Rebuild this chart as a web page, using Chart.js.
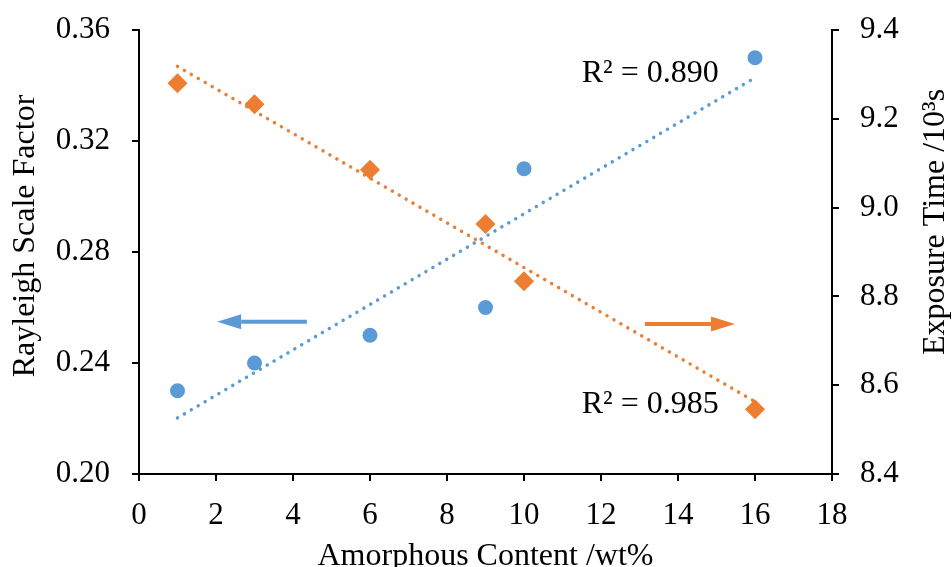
<!DOCTYPE html>
<html>
<head>
<meta charset="utf-8">
<script src="https://cdn.jsdelivr.net/npm/chart.js@4.4.0/dist/chart.umd.min.js"></script>
<style>
  html, body { margin: 0; padding: 0; background: #fff; }
  #wrap { width: 952px; height: 567px; }
</style>
</head>
<body>
<div id="wrap"><canvas id="chartCanvas" width="952" height="567"></canvas></div>
<script>
// Messwerte
const contentX = [1, 3, 6, 9, 10, 16];
const rayleighY = [0.23, 0.24, 0.25, 0.26, 0.31, 0.35];
const exposureY = [9.28, 9.233, 9.085, 8.963, 8.834, 8.546];

// lineare Trendlinien (Endpunkte)
const trendX = [1, 16];
const rayleighTrend = [0.2202, 0.3428];
const exposureTrend = [9.318, 8.563];

// Achsen
const xTicks = [0, 2, 4, 6, 8, 10, 12, 14, 16, 18];
const leftTicks = [0.20, 0.24, 0.28, 0.32, 0.36];
const rightTicks = [8.4, 8.6, 8.8, 9.0, 9.2, 9.4];

const xTitle = 'Amorphous Content /wt%';
const leftTitle = 'Rayleigh Scale Factor';
const rightTitle = 'Exposure Time /10³s';
const r2Labels = ['R² = 0.890', 'R² = 0.985'];

const BLUE = '#5B9BD5';
const ORANGE = '#ED7D31';
const FONT = '"Liberation Serif", "Times New Roman", serif';

const toPoints = (xs, ys) => xs.map((x, i) => ({ x, y: ys[i] }));

function drawArrow(ctx, x0, y0, x1, color) {
  const dir = Math.sign(x1 - x0);
  const headLen = 24, headHalf = 7.5;
  ctx.strokeStyle = color;
  ctx.fillStyle = color;
  ctx.lineWidth = 4;
  ctx.beginPath();
  ctx.moveTo(x0, y0);
  ctx.lineTo(x1 - dir * headLen, y0);
  ctx.stroke();
  ctx.beginPath();
  ctx.moveTo(x1, y0);
  ctx.lineTo(x1 - dir * headLen, y0 - headHalf);
  ctx.lineTo(x1 - dir * headLen, y0 + headHalf);
  ctx.closePath();
  ctx.fill();
}

// Pfeile, R²-Texte und Achsentitel
const annotations = {
  id: 'annotations',
  afterDraw(chart) {
    const { ctx, chartArea, scales } = chart;
    const { x, y, y1 } = scales;
    ctx.save();

    drawArrow(ctx, x.getPixelForValue(4.36), y.getPixelForValue(0.2549), x.getPixelForValue(2.03), BLUE);
    drawArrow(ctx, x.getPixelForValue(13.14), y1.getPixelForValue(8.738), x.getPixelForValue(15.48), ORANGE);

    ctx.fillStyle = '#000';
    ctx.font = '32px ' + FONT;
    ctx.textBaseline = 'alphabetic';
    ctx.textAlign = 'left';
    ctx.fillText(r2Labels[0], x.getPixelForValue(11.5), y.getPixelForValue(0.3413));
    ctx.fillText(r2Labels[1], x.getPixelForValue(11.5), y.getPixelForValue(0.222));

    ctx.textAlign = 'center';
    ctx.fillText(xTitle, (chartArea.left + chartArea.right) / 2, 565);

    ctx.save();
    ctx.translate(34, 236);
    ctx.rotate(-Math.PI / 2);
    ctx.fillText(leftTitle, 0, 0);
    ctx.restore();

    ctx.save();
    ctx.translate(944, 222);
    ctx.rotate(-Math.PI / 2);
    ctx.fillText(rightTitle, 0, 0);
    ctx.restore();

    ctx.restore();
  }
};

const axisLook = {
  grid: { drawOnChartArea: false, drawTicks: true, tickLength: 7, lineWidth: 2, color: '#000' },
  border: { display: true, color: '#000', width: 2 },
};

// feste Achsenbreiten, keine zusätzliche Label-Polsterung
const fitWidth = w => axis => { axis.width = w; axis.paddingTop = 0; axis.paddingBottom = 0; };

const ctx = document.getElementById('chartCanvas').getContext('2d');
const chart = new Chart(ctx, {
  data: {
    datasets: [
      {
        type: 'line',
        data: toPoints(trendX, rayleighTrend),
        yAxisID: 'y',
        borderColor: BLUE,
        borderWidth: 3.5,
        borderDash: [0.01, 8],
        borderCapStyle: 'round',
        pointRadius: 0,
        fill: false,
        order: 0
      },
      {
        type: 'line',
        data: toPoints(trendX, exposureTrend),
        yAxisID: 'y1',
        borderColor: ORANGE,
        borderWidth: 3.5,
        borderDash: [0.01, 8],
        borderCapStyle: 'round',
        pointRadius: 0,
        fill: false,
        order: 0
      },
      {
        type: 'scatter',
        data: toPoints(contentX, rayleighY),
        yAxisID: 'y',
        pointStyle: 'circle',
        pointRadius: 7.5,
        backgroundColor: BLUE,
        borderWidth: 0,
        order: 1
      },
      {
        type: 'scatter',
        data: toPoints(contentX, exposureY),
        yAxisID: 'y1',
        pointStyle: 'rectRot',
        pointRadius: 10,
        backgroundColor: ORANGE,
        borderWidth: 0,
        order: 1
      }
    ]
  },
  options: {
    responsive: false,
    animation: false,
    layout: { padding: { top: 30, left: 0, right: 0, bottom: 0 } },
    plugins: { legend: { display: false }, tooltip: { enabled: false } },
    scales: {
      x: {
        type: 'linear',
        position: 'bottom',
        min: 0,
        max: 18,
        ...axisLook,
        afterBuildTicks: axis => { axis.ticks = xTicks.map(v => ({ value: v })); },
        afterFit: axis => { axis.height = 93; axis.paddingLeft = 0; axis.paddingRight = 0; },
        ticks: { color: '#000', font: { family: FONT, size: 31 }, padding: 16, maxRotation: 0 }
      },
      y: {
        type: 'linear',
        position: 'left',
        min: 0.20,
        max: 0.36,
        ...axisLook,
        afterBuildTicks: axis => { axis.ticks = leftTicks.map(v => ({ value: v })); },
        afterFit: fitWidth(139),
        ticks: { color: '#000', font: { family: FONT, size: 31 }, padding: 22, callback: v => v.toFixed(2) }
      },
      y1: {
        type: 'linear',
        position: 'right',
        min: 8.4,
        max: 9.4,
        ...axisLook,
        afterBuildTicks: axis => { axis.ticks = rightTicks.map(v => ({ value: v })); },
        afterFit: fitWidth(120),
        ticks: { color: '#000', font: { family: FONT, size: 31 }, padding: 21, callback: v => v.toFixed(1) }
      }
    }
  },
  plugins: [annotations]
});
</script>
</body>
</html>
